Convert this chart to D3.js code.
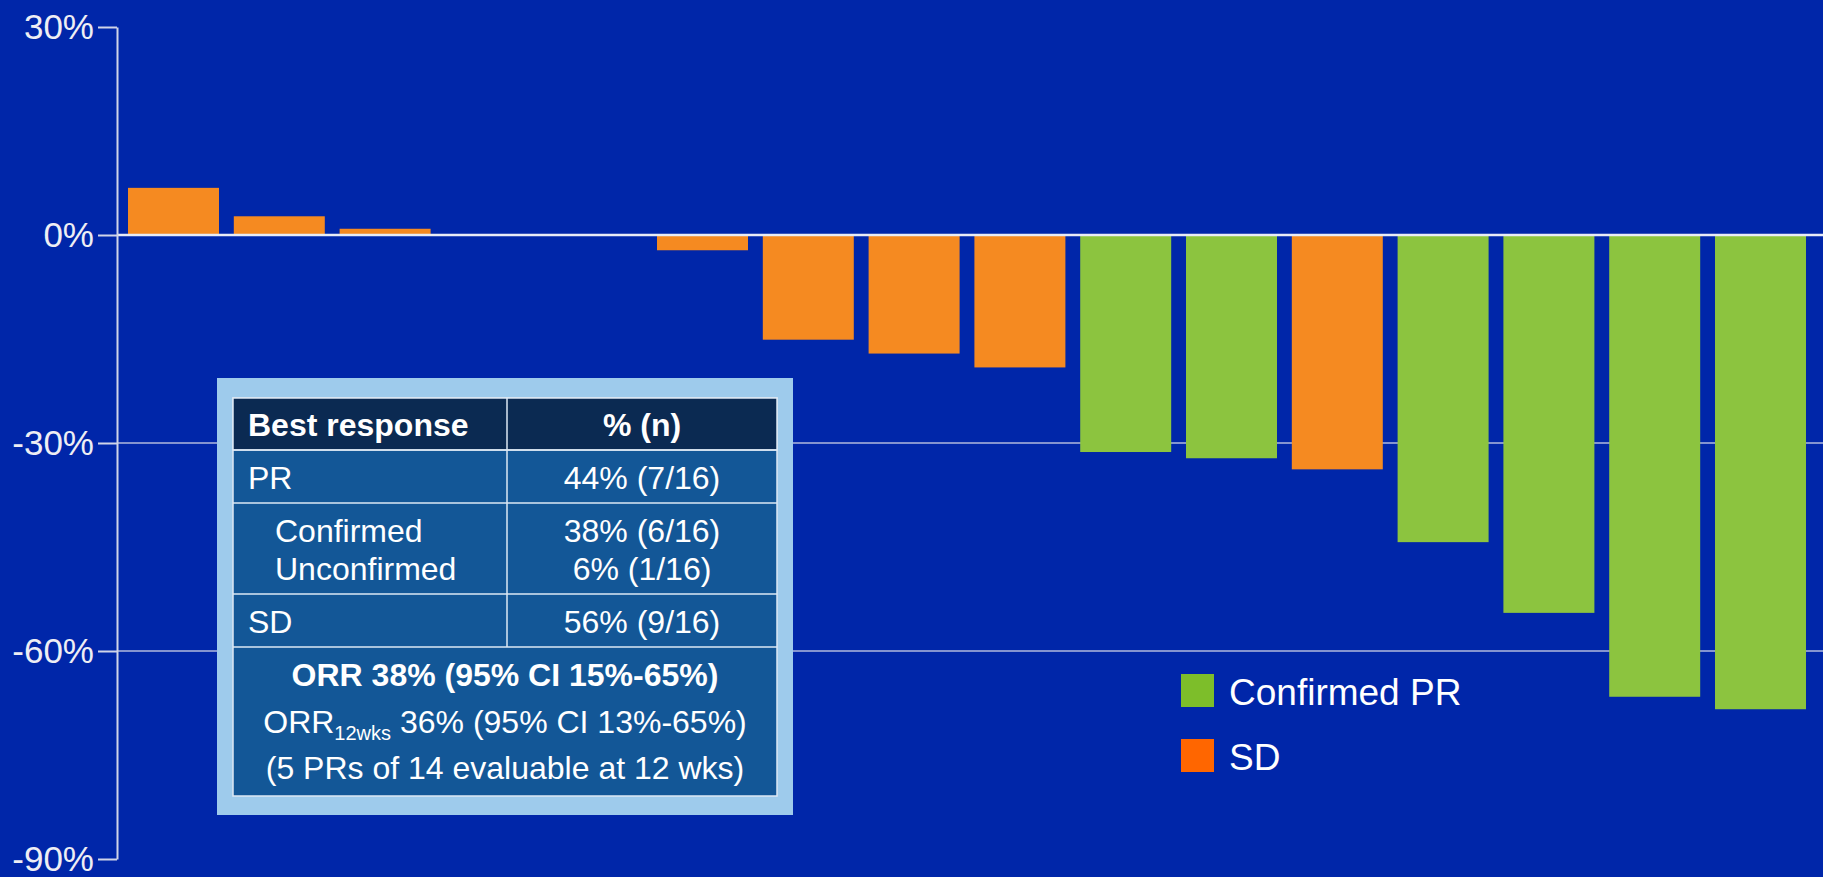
<!DOCTYPE html>
<html>
<head>
<meta charset="utf-8">
<script src="https://cdn.jsdelivr.net/npm/d3@7"></script>
<style>
  body { margin: 0; background: #0026a9; overflow: hidden; }
  text { font-family: "Liberation Sans", Arial, sans-serif; }
</style>
</head>
<body>
<script>
// patients, ordered as in the waterfall
const patients = ["P1","P2","P3","P4","P5","P6","P7","P8","P9","P10","P11","P12","P13","P14","P15","P16"];
// best % change from baseline
const changes = [6.8, 2.7, 0.9, 0, 0, -2.2, -15.1, -17.1, -19.1, -31.3, -32.2, -33.8, -44.3, -54.5, -66.6, -68.4];
const responses = ["SD","SD","SD","SD","uPR","SD","SD","SD","SD","CPR","CPR","SD","CPR","CPR","CPR","CPR"];
const yTicks = [30, 0, -30, -60, -90];

const legendItems = ["Confirmed PR", "SD"];

const tableHeader = ["Best response", "% (n)"];
const tableRows = [
    ["PR", "44% (7/16)"],
    ["Confirmed\nUnconfirmed", "38% (6/16)\n6% (1/16)"],
    ["SD", "56% (9/16)"]
];
const orrLine = "ORR 38% (95% CI 15%-65%)";
const orr12 = ["ORR", "12wks", " 36% (95% CI 13%-65%)"];
const evalLine = "(5 PRs of 14 evaluable at 12 wks)";

const width = 1823;
const height = 877;
const axisX = 117;

const barColor = { CPR: "#8cc43f", SD: "#f58a21", uPR: "#f58a21" };
const legendColor = { "Confirmed PR": "#7dbe2a", "SD": "#ff6600" };

const svg = d3.select("body")
    .append("svg")
    .attr("width", width)
    .attr("height", height);

const x = d3.scaleBand()
    .domain(patients)
    .range([120.6, 1813.4])
    .paddingInner(0.14)
    .paddingOuter(0.07);

const y = d3.scaleLinear()
    .domain([30, -90])
    .range([27, 859]);

// grid lines at -30 and -60
svg.selectAll(".grid")
    .data([-30, -60])
    .enter().append("line")
    .attr("class", "grid")
    .attr("x1", axisX)
    .attr("x2", width)
    .attr("y1", d => y(d))
    .attr("y2", d => y(d))
    .attr("stroke", "#8494d0")
    .attr("stroke-width", 2);

// bars
svg.selectAll(".bar")
    .data(changes)
    .enter().append("rect")
    .attr("class", "bar")
    .attr("x", (d, i) => x(patients[i]))
    .attr("width", x.bandwidth())
    .attr("y", d => y(Math.max(0, d)))
    .attr("height", d => Math.abs(y(d) - y(0)))
    .attr("fill", (d, i) => barColor[responses[i]]);

// zero line
svg.append("line")
    .attr("x1", axisX)
    .attr("x2", width)
    .attr("y1", y(0))
    .attr("y2", y(0))
    .attr("stroke", "#e8ecf6")
    .attr("stroke-width", 2.5);

// y axis
const yAxis = svg.append("g")
    .attr("transform", `translate(${axisX},0)`)
    .call(d3.axisLeft(y)
        .tickValues(yTicks)
        .tickFormat(d => d + "%")
        .tickSize(19)
        .tickSizeOuter(0)
        .tickPadding(4));

yAxis.select(".domain").attr("stroke", "#d0d4e8").attr("stroke-width", 2);
yAxis.selectAll(".tick line").attr("stroke", "#d0d4e8").attr("stroke-width", 2);
yAxis.selectAll(".tick text")
    .attr("fill", "#eeeef4")
    .style("font-size", "35px")
    .style("font-family", "'Liberation Sans', Arial, sans-serif");

// summary table
const tbl = svg.append("g");
tbl.append("rect")
    .attr("x", 217).attr("y", 378)
    .attr("width", 576).attr("height", 437)
    .attr("fill", "#9ecbec");

const tx0 = 233, tx1 = 507, tx2 = 777;
const rowY = [398, 450, 503, 594, 647, 796];
const fs = "32px";

tbl.append("rect")
    .attr("x", tx0).attr("y", rowY[0])
    .attr("width", tx2 - tx0).attr("height", rowY[5] - rowY[0])
    .attr("fill", "#135797")
    .attr("stroke", "#dde8f4").attr("stroke-width", 1.5);

tbl.append("rect")
    .attr("x", tx0).attr("y", rowY[0])
    .attr("width", tx2 - tx0).attr("height", rowY[1] - rowY[0])
    .attr("fill", "#0b2a52")
    .attr("stroke", "#dde8f4").attr("stroke-width", 1.5);

tbl.selectAll(".hline")
    .data(rowY.slice(1, 5))
    .enter().append("line")
    .attr("x1", tx0).attr("x2", tx2)
    .attr("y1", d => d).attr("y2", d => d)
    .attr("stroke", "#dde8f4").attr("stroke-width", 1.5);

tbl.append("line")
    .attr("x1", tx1).attr("x2", tx1)
    .attr("y1", rowY[0]).attr("y2", rowY[4])
    .attr("stroke", "#dde8f4").attr("stroke-width", 1.5);

tbl.append("text")
    .attr("x", 248).attr("y", 436)
    .attr("fill", "white").attr("font-weight", "bold")
    .style("font-size", fs)
    .text(tableHeader[0]);

tbl.append("text")
    .attr("x", (tx1 + tx2) / 2).attr("y", 436)
    .attr("text-anchor", "middle")
    .attr("fill", "white").attr("font-weight", "bold")
    .style("font-size", fs)
    .text(tableHeader[1]);

const rowBase = [[489], [542, 580], [633]];
tableRows.forEach((r, i) => {
    const left = r[0].split("\n");
    const right = r[1].split("\n");
    left.forEach((t, j) => {
        tbl.append("text")
            .attr("x", left.length > 1 ? 275 : 248)
            .attr("y", rowBase[i][j])
            .attr("fill", "white")
            .style("font-size", fs)
            .text(t);
    });
    right.forEach((t, j) => {
        tbl.append("text")
            .attr("x", (tx1 + tx2) / 2)
            .attr("y", rowBase[i][j])
            .attr("text-anchor", "middle")
            .attr("fill", "white")
            .style("font-size", fs)
            .text(t);
    });
});

const cx = (tx0 + tx2) / 2;
tbl.append("text")
    .attr("x", cx).attr("y", 686)
    .attr("text-anchor", "middle")
    .attr("fill", "white").attr("font-weight", "bold")
    .style("font-size", fs)
    .text(orrLine);

const t12 = tbl.append("text")
    .attr("x", cx).attr("y", 733)
    .attr("text-anchor", "middle")
    .attr("fill", "white")
    .style("font-size", fs);
t12.append("tspan").text(orr12[0]);
t12.append("tspan").attr("dy", 7).style("font-size", "20px").text(orr12[1]);
t12.append("tspan").attr("dy", -7).text(orr12[2]);

tbl.append("text")
    .attr("x", cx).attr("y", 779)
    .attr("text-anchor", "middle")
    .attr("fill", "white")
    .style("font-size", fs)
    .text(evalLine);

// legend
const legend = svg.selectAll(".legend")
    .data(legendItems)
    .enter().append("g")
    .attr("class", "legend")
    .attr("transform", (d, i) => `translate(1181,${674 + i * 65})`);

legend.append("rect")
    .attr("width", 33)
    .attr("height", 33)
    .attr("fill", d => legendColor[d]);

legend.append("text")
    .attr("x", 48)
    .attr("y", 31)
    .attr("fill", "white")
    .style("font-size", "37px")
    .text(d => d);
</script>
</body>
</html>
